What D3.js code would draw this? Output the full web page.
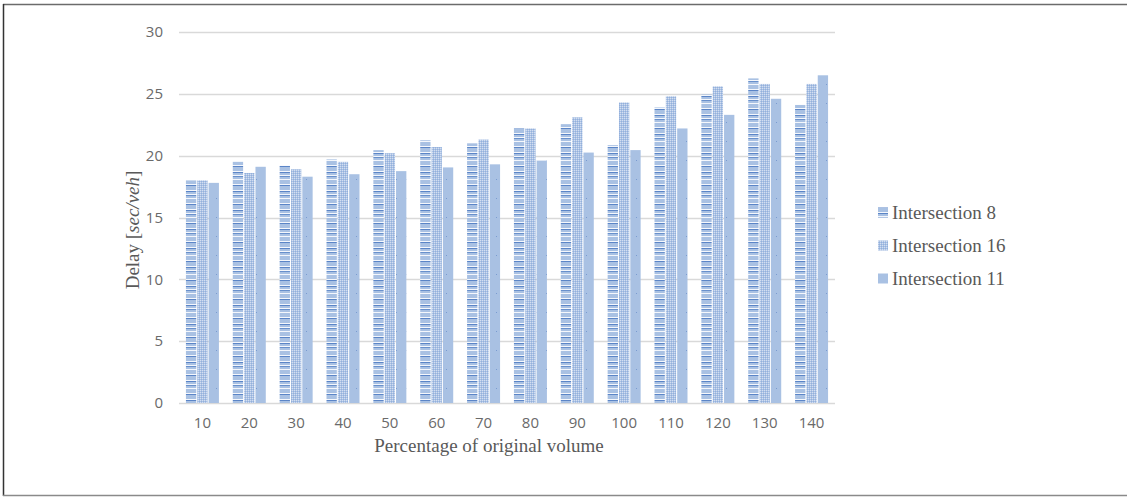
<!DOCTYPE html>
<html>
<head>
<meta charset="utf-8">
<script src="https://cdn.jsdelivr.net/npm/d3@7/dist/d3.min.js"></script>
<style>
  body { margin: 0; background: #fff; }
  svg { display: block; }
</style>
</head>
<body>
<div id="chartDiv"></div>
<script>
// Delay per intersection vs. percentage of original volume

var categories = ['10', '20', '30', '40', '50', '60', '70', '80', '90', '100', '110', '120', '130', '140'];
var seriesNames = ['Intersection 8', 'Intersection 16', 'Intersection 11'];
var int8 = [18.0, 19.5, 19.2, 19.7, 20.45, 21.25, 21.0, 22.2, 22.55, 20.85, 23.9, 24.95, 26.25, 24.1];
var int16 = [18.0, 18.6, 18.9, 19.5, 20.2, 20.7, 21.3, 22.2, 23.1, 24.3, 24.8, 25.6, 25.8, 25.8];
var int11 = [17.8, 19.1, 18.3, 18.5, 18.75, 19.05, 19.3, 19.6, 20.25, 20.45, 22.2, 23.3, 24.6, 26.5];
var yTicks = [0, 5, 10, 15, 20, 25, 30];

var svgWidth = 1127;
var svgHeight = 497;

var svg = d3.select('#chartDiv')
            .append('svg')
            .attr('width', svgWidth)
            .attr('height', svgHeight);

// Frame round the picture
svg.append('line').attr('x1', 3).attr('x2', svgWidth).attr('y1', 4.5).attr('y2', 4.5)
   .attr('stroke', '#6b6b6b').attr('stroke-width', 1.5);
svg.append('line').attr('x1', 3.5).attr('x2', 3.5).attr('y1', 4).attr('y2', 496)
   .attr('stroke', '#333').attr('stroke-width', 1.5);
svg.append('line').attr('x1', 3).attr('x2', svgWidth).attr('y1', 495.5).attr('y2', 495.5)
   .attr('stroke', '#8a8a8a').attr('stroke-width', 1.5);

// Fill patterns
var defs = svg.append('defs');
var lightBlue = '#a9c1e3';

// horizontal stripes for Intersection 8
var p1 = defs.append('pattern').attr('id', 'pat0').attr('patternUnits', 'userSpaceOnUse')
             .attr('width', 10).attr('height', 19);
p1.append('rect').attr('width', 10).attr('height', 19).attr('fill', lightBlue);
[[0, '#f4f7fc'], [1, '#5b85c7'], [4, '#f4f7fc'], [5, '#6890cc'], [8, '#f4f7fc'],
 [13, '#f4f7fc'], [14, '#5b85c7']].forEach(function(r) {
    p1.append('rect').attr('y', r[0]).attr('width', 10).attr('height', 1).attr('fill', r[1]);
});

// checker for Intersection 16
var p2 = defs.append('pattern').attr('id', 'pat1').attr('patternUnits', 'userSpaceOnUse')
             .attr('width', 2).attr('height', 2);
p2.append('rect').attr('width', 2).attr('height', 2).attr('fill', '#abc2e4');
p2.append('rect').attr('width', 1).attr('height', 1).attr('fill', '#d3def1');
p2.append('rect').attr('x', 1).attr('y', 1).attr('width', 1).attr('height', 1).attr('fill', '#93b0dc');

// solid with sparse dots for Intersection 11
var p3 = defs.append('pattern').attr('id', 'pat2').attr('patternUnits', 'userSpaceOnUse')
             .attr('width', 10).attr('height', 19);
p3.append('rect').attr('width', 10).attr('height', 19).attr('fill', lightBlue);
p3.append('rect').attr('x', 6).attr('y', 8).attr('width', 1).attr('height', 1).attr('fill', '#7a9bd0');

// Scales
var x0 = d3.scaleBand().domain(categories).range([179, 835]);
var x1 = d3.scaleBand().domain([0, 1, 2]).range([0, 33]).paddingInner(0.09);
var y = d3.scaleLinear().domain([0, 30]).range([403, 32]);

// Gridlines
svg.selectAll('.grid')
   .data(yTicks)
   .enter()
   .append('line')
   .attr('class', 'grid')
   .attr('x1', 179).attr('x2', 835)
   .attr('y1', function(d) { return Math.round(y(d)) + 0.5; })
   .attr('y2', function(d) { return Math.round(y(d)) + 0.5; })
   .attr('stroke', '#d9d9d9')
   .attr('stroke-width', 1.3);

// Y axis tick labels
var yAxis = d3.axisLeft(y).tickValues(yTicks).tickSize(0).tickPadding(0);
var gy = svg.append('g').attr('transform', 'translate(163,0)').call(yAxis);
gy.select('.domain').remove();
gy.selectAll('text')
  .attr('font-family', '"Open Sans", sans-serif')
  .attr('font-size', 15)
  .attr('fill', '#6a6a6a');

// Bars
var series = [int8, int16, int11];
series.forEach(function(vals, s) {
    svg.selectAll('.bar' + s)
       .data(vals)
       .enter()
       .append('rect')
       .attr('class', 'bar' + s)
       .attr('x', function(d, i) { return x0(categories[i]) + (x0.bandwidth() - 33) / 2 + x1(s); })
       .attr('width', x1.bandwidth())
       .attr('y', function(d) { return y(d); })
       .attr('height', function(d) { return y(0) - y(d); })
       .attr('fill', 'url(#pat' + s + ')');
});

// X axis tick labels
var xAxis = d3.axisBottom(x0).tickSize(0).tickPadding(0);
var gx = svg.append('g').attr('transform', 'translate(0,417)').call(xAxis);
gx.select('.domain').remove();
gx.selectAll('text')
  .attr('font-family', '"Open Sans", sans-serif')
  .attr('font-size', 15)
  .attr('fill', '#6a6a6a');

// Axis titles
svg.append('text')
   .attr('x', 489).attr('y', 452)
   .attr('text-anchor', 'middle')
   .attr('font-family', '"Liberation Serif", "Times New Roman", serif')
   .attr('font-size', 19)
   .attr('fill', '#595959')
   .text('Percentage of original volume');

var yTitle = svg.append('text')
   .attr('transform', 'translate(139,230) rotate(-90)')
   .attr('text-anchor', 'middle')
   .attr('font-family', '"Liberation Serif", "Times New Roman", serif')
   .attr('font-size', 19)
   .attr('fill', '#595959');
yTitle.append('tspan').text('Delay [');
yTitle.append('tspan').attr('font-style', 'italic').text('sec/veh');
yTitle.append('tspan').text(']');

// Legend
var legend = svg.selectAll('.legend')
   .data(seriesNames)
   .enter()
   .append('g')
   .attr('class', 'legend')
   .attr('transform', function(d, i) { return 'translate(878,' + (212 + i * 33) + ')'; });

legend.append('rect')
   .attr('x', 0).attr('y', -4.5)
   .attr('width', 10).attr('height', 10)
   .attr('fill', function(d, i) { return 'url(#pat' + i + ')'; });

legend.append('text')
   .attr('x', 14).attr('y', 7)
   .attr('font-family', '"Liberation Serif", "Times New Roman", serif')
   .attr('font-size', 19)
   .attr('fill', '#595959')
   .text(function(d) { return d; });
</script>
</body>
</html>
